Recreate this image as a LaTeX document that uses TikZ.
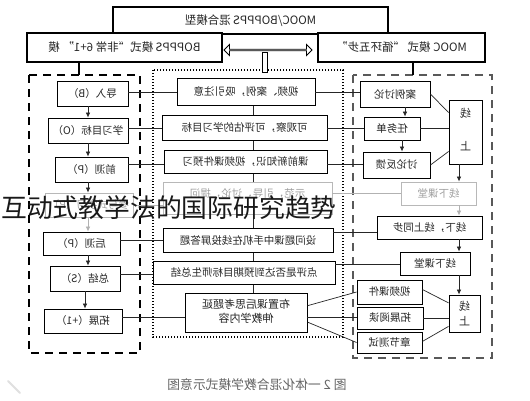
\documentclass[tikz,border=0pt]{standalone}
\usepackage{fontspec}
\usepackage{graphicx}
\setmainfont{Noto Sans CJK SC}
\usetikzlibrary{arrows.meta,shapes.arrows,calc}
\pgfdeclarelayer{bg}
\pgfsetlayers{bg,main}
\newcommand\mt[1]{\reflectbox{#1}}
\newcommand\bb[7][]{\node[bx,#1,minimum width={(#5-#3)*1pt},minimum height={(#6-#4)*1pt}] (#2) at ({(#3+#5)/2},{(#4+#6)/2}) {\reflectbox{#7}};}
\tikzset{
  bx/.style={draw, line width=0.9pt, fill=white, inner sep=0pt, text=black!85,
    font=\fontsize{10.5pt}{13pt}\selectfont},
  topbx/.style={line width=1.4pt, font=\fontsize{11.5pt}{13pt}\selectfont},
  faded/.style={draw=black!28, text=black!38},
  ln/.style={line width=0.7pt, black!85},
  fln/.style={line width=0.7pt, black!30},
  arr/.style={ln, -{Latex[length=5pt,width=4.5pt]}},
  farr/.style={fln, -{Latex[length=5pt,width=4.5pt]}},
  tallchar/.style={inner sep=0pt, text=black!85, font=\fontsize{11pt}{13pt}\selectfont}
}
\begin{document}
\begin{tikzpicture}[x=1pt,y=-1pt]
\begin{pgfonlayer}{bg}
\fill[white] (0,0) rectangle (530,400);
\end{pgfonlayer}
\useasboundingbox (0,0) rectangle (530,400);

% frames
\draw[line width=2.2pt, dash pattern=on 8pt off 6pt] (29,75) rectangle (140,353);
\draw[line width=2.2pt, black!65, dash pattern=on 8pt off 6pt] (353,75) rectangle (492,358);
\draw[line width=1.4pt, dash pattern=on 1.4pt off 1.6pt] (153,70) rectangle (343,337);

% top boxes
\bb[topbx]{T0}{113}{7}{388}{34}{MOOC/BOPPPS 混合模型}
\bb[topbx]{TL}{27}{33}{222}{62}{BOPPPS 模式“非常 6+1” 模}
\bb[topbx]{TR}{318}{33}{485}{62}{MOOC 模式 “循环五步”}

% links from top boxes to frames
\coordinate (cxl) at (79,0);
\coordinate (cxr) at (413,0);
\coordinate (fy) at (0,75);
\draw[line width=2.2pt] (TL.south -| cxl) -- (fy -| cxl);
\draw[line width=2.2pt] (TR.south -| cxr) -- (fy -| cxr);
\draw[line width=0.9pt, fill=white] (262,52) rectangle (267,72);
\node[draw, fill=white, line width=0.9pt, double arrow, double arrow head extend=3pt,
  minimum height=88pt, minimum width=11pt, inner sep=0pt] (da) at (268,50) {};

% left column
\bb{L1}{57}{81}{128}{106}{导入（B）}
\bb{L2}{48}{118}{128}{143}{学习目标（O）}
\bb{L3}{55}{157}{128}{182}{前测（P）}
\bb[faded]{L4}{45}{193}{133}{217}{参与式学习（P）}
\bb{L5}{43}{232}{120}{255}{后测（P）}
\bb{L6}{50}{266}{120}{291}{总结（S）}
\bb{L7}{44}{309}{122}{333}{拓展（+1）}
\coordinate (lx) at (88,0);
\coordinate (lx2) at (85,0);
\draw[arr] (L1.south -| lx) -- (L2.north -| lx);
\draw[arr] (L2.south -| lx) -- (L3.north -| lx);
\draw[arr] (L3.south -| lx) -- (L4.north -| lx);
\draw[farr] (L4.south -| lx) -- (L5.north -| lx);
\draw[arr] (L5.south -| lx) -- (L6.north -| lx);
\draw[arr] (L6.south -| lx2) -- (L7.north -| lx2);

% middle column
\bb{M1}{177}{78}{315}{105}{视频、案例，吸引注意}
\bb{M2}{162}{115}{327}{140}{可观察，可评估的学习目标}
\bb{M3}{164}{150}{327}{173}{课前新知识，视频课件预习}
\bb[faded]{M4}{163}{182}{332}{214}{}
\node[inner sep=0pt, text=black!38, font=\fontsize{10.5pt}{13pt}\selectfont] (M4t) at (M4.north |- 0,194) {\mt{示范，引导，讨论，提问}};
\bb{M5}{163}{228}{333}{252}{设问题课中手机在线投屏答题}
\bb{M6}{153}{261}{335}{284}{点评是否达到预期目标师生总结}
\bb[font=\fontsize{11pt}{14pt}\selectfont]{M7}{185}{293}{307}{332}{\begin{tabular}{@{}c@{}}布置课后思考题延\\伸教学内容\end{tabular}}
\coordinate (mx) at (253,0);
\begin{pgfonlayer}{bg}
\draw[ln] (M1.south -| mx) -- (M7.north -| mx);
\end{pgfonlayer}

% right column
\bb{R1}{360}{81}{430}{107}{案例讨论}
\bb{R2}{364}{117}{420}{140}{任务单}
\bb{R3}{363}{152}{430}{178}{讨论反馈}
\bb[faded]{R4}{401}{182}{476}{205}{线下课堂}
\bb{R5}{377}{216}{482}{239}{线下，线上同步}
\bb{R6}{400}{252}{470}{275}{线下课堂}
\bb{V1}{357}{280}{422}{304}{视频课件}
\bb{V2}{357}{307}{423}{329}{拓展阅读}
\bb{V3}{357}{332}{422}{353}{章节测试}
\node[bx, minimum width=33pt, minimum height=64pt] (T1) at (465.5,132) {};
\node[tallchar] (T1a) at (T1.north |- 0,113) {\mt{线}};
\node[tallchar] (T1b) at (T1.north |- 0,146) {\mt{上}};
\node[bx, minimum width=31pt, minimum height=37pt] (T2) at (464.5,313.5) {};
\node[tallchar] (T2a) at (T2.north |- 0,306) {\mt{线}};
\node[tallchar] (T2b) at (T2.north |- 0,321) {\mt{上}};

\coordinate (rx1) at (405,0);
\coordinate (rx2) at (402,0);
\coordinate (rx3) at (459,0);
\draw[arr] (R1.south -| rx1) -- (R2.north -| rx1);
\draw[arr] (R2.south -| rx2) -- (R3.north -| rx2);
\draw[arr] (T1.south -| rx3) -- (R4.north -| rx3);
\draw[farr] (R4.south -| rx3) -- (R5.north -| rx3);
\draw[arr] (R5.south -| rx3) -- (R6.north -| rx3);
\draw[arr] (R6.south -| rx3) -- (T2.north -| rx3);

\draw[ln] (R1.east) -- ($(T1.north west)!0.2!(T1.south west)$);
\draw[ln] (R2.east) -- (R2.east -| T1.west);
\draw[ln] (R3.east) -- ($(T1.north west)!0.8!(T1.south west)$);
\draw[ln] ($(V1.north east)!0.4!(V1.south east)$) -- ($(T2.north west)!0.22!(T2.south west)$);
\draw[ln] (V2.east) -- (V2.east -| T2.west);
\draw[ln] ($(V3.north east)!0.45!(V3.south east)$) -- ($(T2.north west)!0.84!(T2.south west)$);

% row connectors
\coordinate (y1) at (0,92);
\coordinate (y2) at (0,128);
\coordinate (y3) at (0,164);
\coordinate (y4) at (0,205);
\coordinate (y4r) at (0,193);
\coordinate (y5) at (0,240);
\coordinate (y5r) at (0,232);
\coordinate (y6) at (0,274);
\coordinate (y6r) at (0,264);
\coordinate (y7) at (0,317);
\draw[ln] (L1.east |- y1) -- (M1.west |- y1);
\draw[ln] (L2.east |- y2) -- (M2.west |- y2);
\draw[ln] (L3.east |- y3) -- (M3.west |- y3);
\draw[fln] (L4.east |- y4) -- (M4.west |- y4);
\draw[ln] (L5.east |- y5) -- (M5.west |- y5);
\draw[ln] (L6.east |- y6) -- (M6.west |- y6);
\draw[ln] (L7.east |- y7) -- (M7.west |- y7);
\draw[ln] (M1.east |- y1) -- (R1.west |- y1);
\draw[ln] (M2.east |- y2) -- (R2.west |- y2);
\draw[ln] (M3.east |- y3) -- (R3.west |- y3);
\draw[fln] (M4.east |- y4r) -- (R4.west |- y4r);
\draw[ln] (M5.east |- y5r) -- (R5.west |- y5r);
\draw[ln] (M6.east |- y6r) -- (R6.west |- y6r);
\draw[ln] ($(M7.north east)!0.33!(M7.south east)$) -- (V1.west);
\draw[ln] (M7.east |- y7) -- (V2.west |- y7);
\draw[ln] ($(M7.north east)!0.74!(M7.south east)$) -- (V3.west);

% caption
\node[inner sep=0pt, text=black!60, font=\fontsize{12.8pt}{14pt}\selectfont] (cap) at (257,385) {\mt{图 2 一体化混合教学模式示意图}};

% faint mark
\draw[line width=2pt, black!12, line cap=round] (8,381) -- (20,393);

% watermark
\node[anchor=west, inner sep=0pt, text=black!90, font=\fontsize{25.8pt}{28pt}\selectfont] (wm) at (1,208) {互动式教学法的国际研究趋势};
\end{tikzpicture}
\end{document}
